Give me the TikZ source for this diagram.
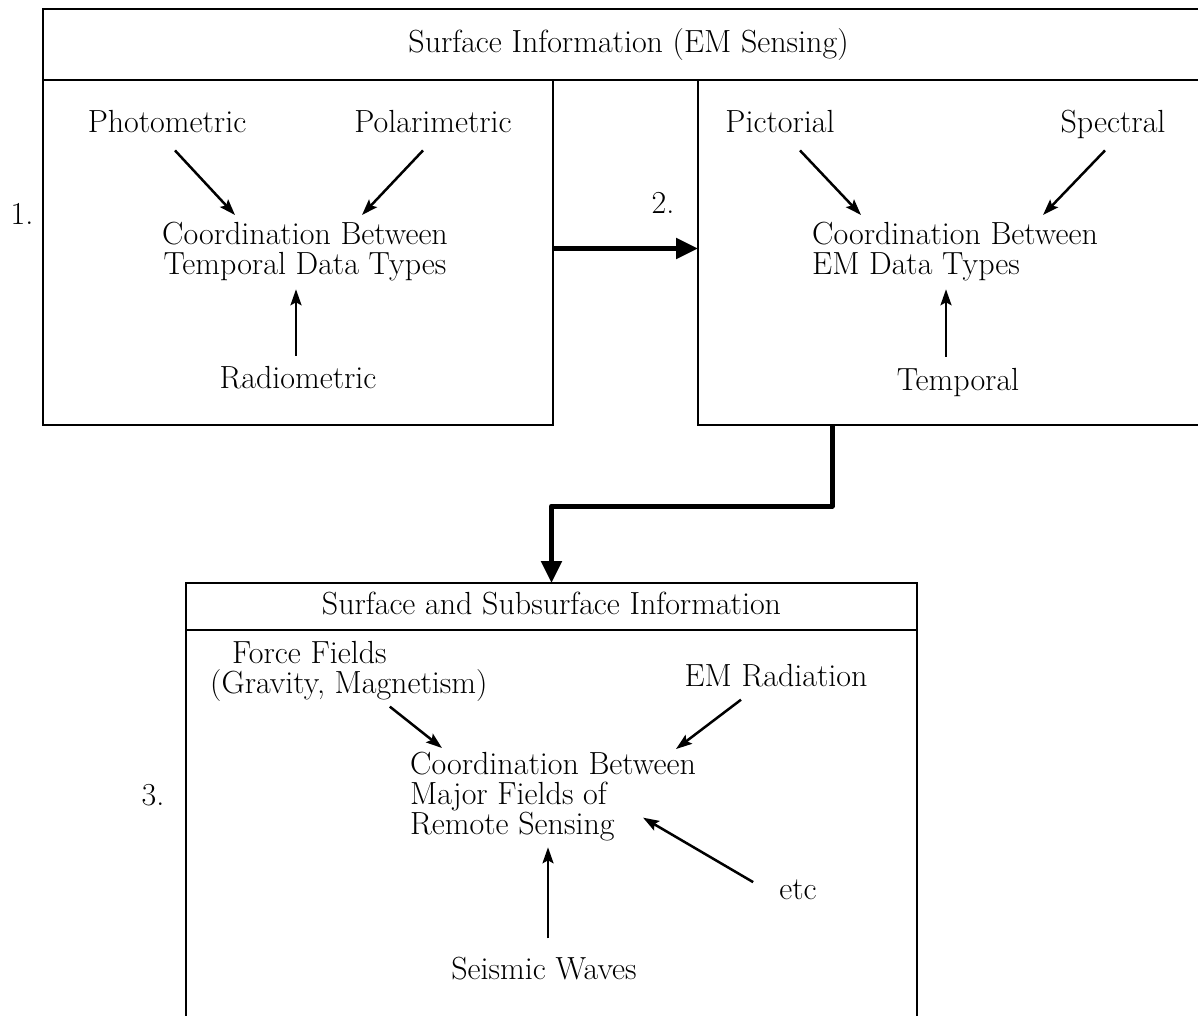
\documentclass[tikz,border=0pt]{standalone}
\usepackage{tikz}
\usetikzlibrary{arrows.meta}

\begin{document}
\begin{tikzpicture}[x=1pt,y=-1pt,
	panel/.style={draw,line width=2pt,inner sep=0pt,outer sep=0pt},
	txt/.style={inner sep=0pt,font=\fontsize{32}{30}\selectfont},
	feed/.style={-{Stealth[length=16pt,width=11pt,inset=3pt]},line width=2.5pt},
	link/.style={-{Triangle[length=22pt,width=20pt]},line width=5pt,line join=round}]
		\useasboundingbox (0,0) rectangle (1198,1016);
		% panels
		\node[panel,txt,minimum width=1171pt,minimum height=71pt] (hdr) at (628.5,44.5) {Surface Information (EM Sensing)};
		\node[panel,minimum width=510pt,minimum height=345pt] (p1) at (298,252.5) {};
		\node[panel,minimum width=516pt,minimum height=345pt] (p2) at (956,252.5) {};
		\node[panel,txt,text depth=6pt,minimum width=731pt,minimum height=47pt] (hdr3) at (551.5,606.5) {Surface and Subsurface Information};
		\node[panel,minimum width=731pt,minimum height=410pt] (p3) at (551.5,835) {};
		% step 1
		\node[txt,anchor=base] (n1) at (22,225) {1.};
		\node[txt,anchor=base] (photo) at (167,133) {Photometric};
		\node[txt,anchor=base] (polar) at (433,133) {Polarimetric};
		\node[txt,align=center,anchor=north] (coordA) at (305,222) {Coordination Between\\Temporal Data Types};
		\node[txt,anchor=base] (radio) at (298,388) {Radiometric};
		\draw[feed] ([shift={(8,17)}]photo.south) -- ([shift={(-70,-7)}]coordA.north);
		\draw[feed] ([shift={(-10,17)}]polar.south) -- ([shift={(57,-7)}]coordA.north);
		\draw[feed] ([shift={(-2,-10)}]radio.north) -- ([shift={(-2,8)}]radio.north |- coordA.south);
		% step 2
		\node[txt,anchor=base] (n2) at (663,214) {2.};
		\node[txt,anchor=base] (pict) at (780,133) {Pictorial};
		\node[txt,anchor=base] (spec) at (1113,133) {Spectral};
		\node[txt,align=left,anchor=north west] (coordB) at (812,222) {Coordination Between\\EM Data Types};
		\node[txt,anchor=base] (tempB) at (958,390) {Temporal};
		\draw[feed] ([shift={(20,17)}]pict.south) -- ([shift={(-94,-7)}]coordB.north);
		\draw[feed] ([shift={(-8,11)}]spec.south) -- ([shift={(88,-7)}]coordB.north);
		\draw[feed] ([shift={(-12,-11)}]tempB.north) -- ([shift={(-12,8)}]tempB.north |- coordB.south);
		% step 3
		\node[txt,anchor=base] (n3) at (153,805) {3.};
		\node[txt,align=left,anchor=north west] (force) at (210,641) {\hspace*{22pt}Force Fields\\(Gravity, Magnetism)};
		\node[txt,anchor=base] (emrad) at (776,686) {EM Radiation};
		\node[txt,align=left,anchor=north west] (coordC) at (410,752) {Coordination Between\\Major Fields of\\Remote Sensing};
		\node[txt,anchor=base] (etc) at (798,899) {etc};
		\node[txt,anchor=base] (seis) at (544,979) {Seismic Waves};
		\draw[feed] ([shift={(41,5)}]force.south) -- ([shift={(32,-4)}]coordC.north west);
		\draw[feed] ([shift={(-35,13)}]emrad.south) -- ([shift={(-20,-3)}]coordC.north east);
		\draw[feed] ([shift={(-26,3)}]etc.north west) -- ([shift={(-53,21)}]coordC.east);
		\draw[feed] ([shift={(4,-18)}]seis.north) -- ([shift={(4,6)}]seis.north |- coordC.south);
		% flow between steps
		\draw[link] ([yshift=4pt]p1.east) -- ([yshift=4pt]p2.west);
		\draw[link] ([xshift=-124pt]p2.south) -- ++(0,81) -| (hdr3.north);
	\end{tikzpicture}
\end{document}
